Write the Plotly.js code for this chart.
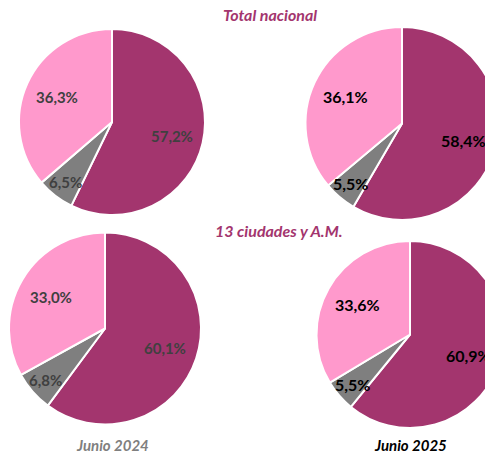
<!DOCTYPE html>
<html>
<head>
<meta charset="utf-8">
<script src="https://cdn.plot.ly/plotly-3.0.1.min.js"></script>
<style>
html,body{margin:0;padding:0;overflow:hidden;background:#fff;width:485px;height:455px;}
#chart{width:520px;height:455px;}
</style>
</head>
<body>
<div id="chart"></div>
<script>
// ---- data ----
const categories = ["Asalariados", "Otros", "Cuenta propia"];
const totalNacional2024 = [57.2, 6.5, 36.3];
const totalNacional2025 = [58.4, 5.5, 36.1];
const ciudades2024 = [60.1, 6.8, 33.0];
const ciudades2025 = [60.9, 5.5, 33.6];
const groupTitles = ["Total nacional", "13 ciudades y A.M."];
const periodLabels = ["Junio 2024", "Junio 2025"];

// ---- style / layout ----
const W = 520, H = 455;
const colors = ["#a3356e", "#7f7f7f", "#ff99cc"];
const labelRadius = [0.66, 0.82, 0.65];
const pies = [
  {values: totalNacional2024, cx: 112, cy: 122, r: 93, txt: "#404040", size: 15},
  {values: totalNacional2025, cx: 402, cy: 123.5, r: 96.5, txt: "#000000", size: 16},
  {values: ciudades2024, cx: 105, cy: 328.5, r: 96, txt: "#404040", size: 15},
  {values: ciudades2025, cx: 410, cy: 334.5, r: 93.5, txt: "#000000", size: 16}
];

const fmt = v => v.toFixed(1).replace(".", ",") + "%";
const data = [];
const annotations = [];

pies.forEach(p => {
  data.push({
    type: "pie",
    labels: categories,
    values: p.values,
    sort: false,
    direction: "clockwise",
    rotation: 0,
    textinfo: "none",
    hoverinfo: "label+percent",
    marker: {colors: colors, line: {color: "#ffffff", width: 2}},
    domain: {
      x: [(p.cx - p.r) / W, (p.cx + p.r) / W],
      y: [1 - (p.cy + p.r) / H, 1 - (p.cy - p.r) / H]
    },
    showlegend: false
  });
  const total = p.values.reduce((a, b) => a + b, 0);
  let cum = 0;
  p.values.forEach((v, i) => {
    const mid = (cum + v / 2) / total * 2 * Math.PI;
    cum += v;
    const rr = p.r * labelRadius[i];
    const px = p.cx + Math.sin(mid) * rr;
    const py = p.cy - Math.cos(mid) * rr;
    annotations.push({
      xref: "paper", yref: "paper",
      x: px / W, y: 1 - py / H,
      xanchor: "center", yanchor: "middle",
      showarrow: false,
      text: fmt(v),
      font: {family: "Lato, 'Open Sans', sans-serif", size: p.size, color: p.txt, weight: "bold"}
    });
  });
});

const titleFont = {family: "Lato, 'Open Sans', sans-serif", size: 16, color: "#a3356e", weight: "bold", style: "italic"};
annotations.push({xref: "paper", yref: "paper", x: 270 / W, y: 1 - 15 / H, xanchor: "center", yanchor: "middle", showarrow: false, text: groupTitles[0], font: titleFont});
annotations.push({xref: "paper", yref: "paper", x: 279 / W, y: 1 - 230 / H, xanchor: "center", yanchor: "middle", showarrow: false, text: groupTitles[1], font: titleFont});
annotations.push({xref: "paper", yref: "paper", x: 112 / W, y: 1 - 445 / H, xanchor: "center", yanchor: "middle", showarrow: false, text: periodLabels[0],
  font: {family: "Lato, 'Open Sans', sans-serif", size: 15, color: "#7f7f7f", weight: "bold", style: "italic"}});
annotations.push({xref: "paper", yref: "paper", x: 410 / W, y: 1 - 445 / H, xanchor: "center", yanchor: "middle", showarrow: false, text: periodLabels[1],
  font: {family: "Lato, 'Open Sans', sans-serif", size: 15, color: "#000000", weight: "bold", style: "italic"}});

const layout = {
  width: W, height: H,
  margin: {l: 0, r: 0, t: 0, b: 0},
  paper_bgcolor: "#ffffff",
  plot_bgcolor: "#ffffff",
  annotations: annotations,
  showlegend: false
};

Plotly.newPlot("chart", data, layout, {displayModeBar: false, staticPlot: true});
</script>
</body>
</html>
